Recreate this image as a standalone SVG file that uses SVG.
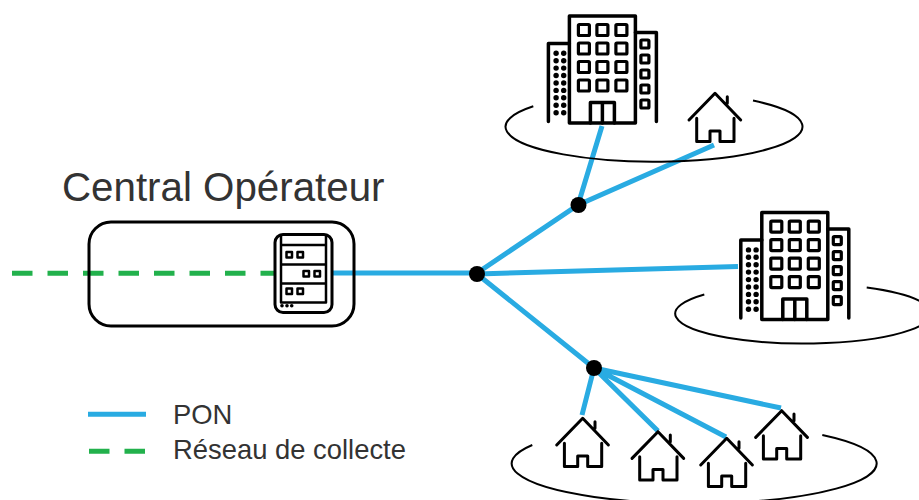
<svg xmlns="http://www.w3.org/2000/svg" width="919" height="500" viewBox="0 0 919 500">
<style>
.ic{fill:none;stroke:#000;stroke-linecap:round;stroke-linejoin:round}
.pon{fill:none;stroke:#29ABE2;stroke-width:5}
.col{fill:none;stroke:#22B14C;stroke-width:5;stroke-dasharray:20.500 15}
.arc{fill:none;stroke:#000;stroke-width:2}
.t{font-family:"Liberation Sans",Arial,sans-serif;fill:#333}
.dot{fill:#000}
</style>
<defs>
<g id="bld">
<g class="ic" stroke-width="3.500">
<rect x="22" y="1" width="66" height="107"/>
<path d="M22 28.500H1V106.500M88 17.500H109V106.500"/>
<path d="M43 108V87.500H67V108M55 88V108"/>
</g>
<g class="ic" stroke-width="3.200">
<rect x="31" y="9.500" width="11" height="11" rx="1"/><rect x="49.500" y="9.500" width="11" height="11" rx="1"/><rect x="68.500" y="9.500" width="11" height="11" rx="1"/>
<rect x="31" y="28" width="11" height="11" rx="1"/><rect x="49.500" y="28" width="11" height="11" rx="1"/><rect x="68.500" y="28" width="11" height="11" rx="1"/>
<rect x="31" y="46.500" width="11" height="11" rx="1"/><rect x="49.500" y="46.500" width="11" height="11" rx="1"/><rect x="68.500" y="46.500" width="11" height="11" rx="1"/>
<rect x="31" y="65" width="11" height="11" rx="1"/><rect x="49.500" y="65" width="11" height="11" rx="1"/><rect x="68.500" y="65" width="11" height="11" rx="1"/>
<rect x="93.500" y="25" width="8" height="8" rx="1"/><rect x="93.500" y="40" width="8" height="8" rx="1"/><rect x="93.500" y="55" width="8" height="8" rx="1"/><rect x="93.500" y="70" width="8" height="8" rx="1"/><rect x="93.500" y="85" width="8" height="8" rx="1"/>
</g>
<g class="dot">
<circle cx="8.700" cy="38.300" r="2.700"/><circle cx="16.300" cy="38.300" r="2.700"/>
<circle cx="8.700" cy="45.700" r="2.700"/><circle cx="16.300" cy="45.700" r="2.700"/>
<circle cx="8.700" cy="53.100" r="2.700"/><circle cx="16.300" cy="53.100" r="2.700"/>
<circle cx="8.700" cy="60.500" r="2.700"/><circle cx="16.300" cy="60.500" r="2.700"/>
<circle cx="8.700" cy="68" r="2.700"/><circle cx="16.300" cy="68" r="2.700"/>
<circle cx="8.700" cy="75.400" r="2.700"/><circle cx="16.300" cy="75.400" r="2.700"/>
<circle cx="8.700" cy="82.800" r="2.700"/><circle cx="16.300" cy="82.800" r="2.700"/>
<circle cx="8.700" cy="90.200" r="2.700"/><circle cx="16.300" cy="90.200" r="2.700"/>
<circle cx="8.700" cy="97.700" r="2.700"/><circle cx="16.300" cy="97.700" r="2.700"/>
</g>
</g>
<path id="hs" class="ic" stroke-width="3" d="M-26 26.700L0 0L25.700 26.700M12.300 3.400V10M-18.300 25V48.300H-5V37.700H5V48.300H19V25"/>
</defs>
<g id="connectors">
<path class="col" d="M12 273.300H275"/>
<path class="pon" d="M331 273H477L578 205L714 145M578 205L602 126M477 274L738 266.500M477 274L594 368L582 415M594 368L658 431M594 368L726 437M594 368L781 408"/>
</g>
<g id="central"><rect x="89" y="222" width="265" height="104" rx="22" fill="none" stroke="#000" stroke-width="3"/></g>
<g id="central-label"><text class="t" x="62" y="201" font-size="40.300">Central Opérateur</text></g>
<g id="server">
<rect x="275" y="234.500" width="57" height="78" rx="8" fill="#fff" stroke="#000" stroke-width="3"/>
<g class="ic" stroke-width="2.500">
<path d="M281 235V302.500H326V235M281 245H326M281 264.500H326M281 283.500H326"/>
<rect x="286.500" y="252" width="5.500" height="5.500"/><rect x="297.500" y="252" width="5.500" height="5.500"/>
<rect x="303.500" y="271" width="5.500" height="5.500"/><rect x="314.500" y="271" width="5.500" height="5.500"/>
<rect x="286.500" y="288.500" width="5.500" height="5.500"/><rect x="297.500" y="288.500" width="5.500" height="5.500"/>
</g>
<g class="dot"><circle cx="282" cy="305.700" r="1.800"/><circle cx="287" cy="305.700" r="1.800"/><circle cx="291.700" cy="305.700" r="1.800"/></g>
</g>
<g id="site-top">
<path class="arc" d="M533.300 106.300A148.500 35 0 1 0 753 100.600"/>
<use href="#bld" x="547.400" y="15"/>
<use href="#hs" x="715" y="93.300"/>
</g>
<g id="site-right">
<path class="arc" d="M704.300 294.500A128 30 0 1 0 866.700 287.500"/>
<use href="#bld" x="739.800" y="211.600"/>
</g>
<g id="site-bottom">
<path class="arc" d="M532.300 445A182.500 40 0 1 0 822.300 435"/>
<use href="#hs" x="582.700" y="418.300"/>
<use href="#hs" x="658" y="431.700"/>
<use href="#hs" x="726.700" y="438.300"/>
<use href="#hs" x="781.700" y="410.700"/>
</g>
<g id="splitters">
<circle class="dot" cx="477" cy="274" r="8"/>
<circle class="dot" cx="578.500" cy="205" r="8"/>
<circle class="dot" cx="594" cy="368" r="8"/>
</g>
<g id="legend">
<path class="pon" d="M88 414.300H146"/>
<path class="col" d="M89 451.300H146"/>
<text class="t" x="173" y="424" font-size="27.400">PON</text>
<text class="t" x="173" y="459" font-size="27.400">Réseau de collecte</text>
</g>
</svg>
